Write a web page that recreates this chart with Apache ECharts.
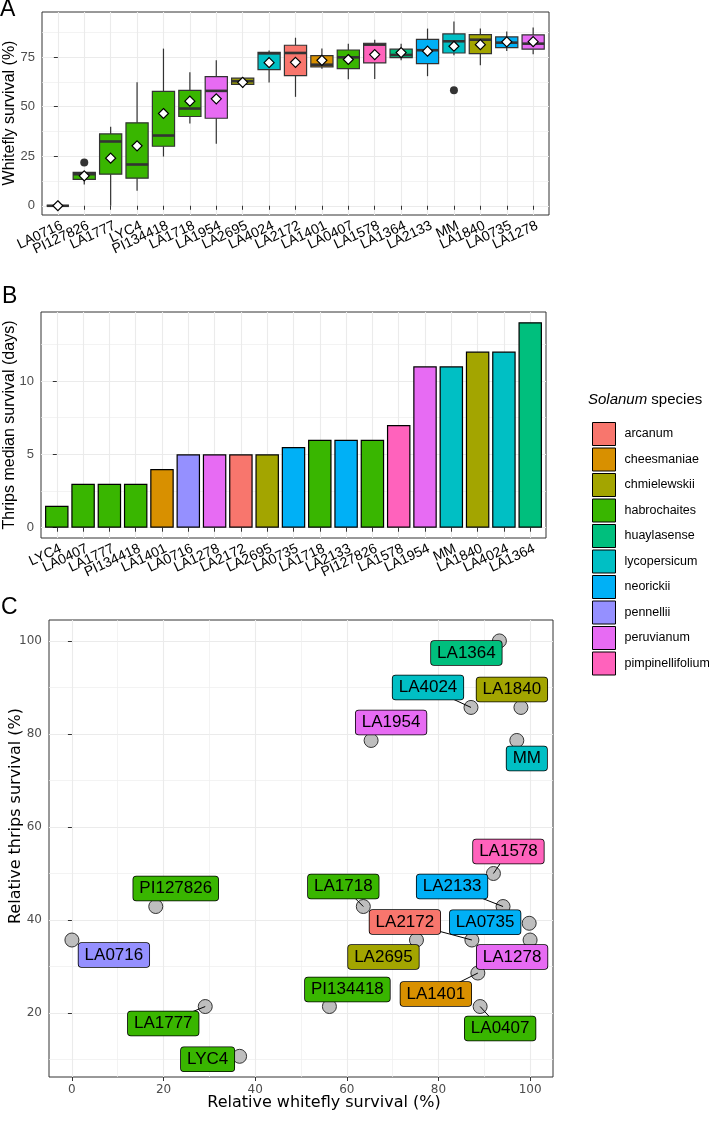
<!DOCTYPE html>
<html>
<head>
<meta charset="utf-8">
<script src="https://cdn.jsdelivr.net/npm/echarts@6/dist/echarts.min.js"></script>
<style>
html, body { margin: 0; padding: 0; background: #fff; }
#chart { width: 709px; height: 1121px; }
</style>
</head>
<body>
<div id="chart"></div>
<script>
// species + ggplot hue palette
var species = ['arcanum', 'cheesmaniae', 'chmielewskii', 'habrochaites', 'huaylasense',
  'lycopersicum', 'neorickii', 'pennellii', 'peruvianum', 'pimpinellifolium'];
var speciesColors = ['#F8766D', '#D89000', '#A3A500', '#39B600', '#00BF7D',
  '#00BFC4', '#00B0F6', '#9590FF', '#E76BF3', '#FF62BC'];

// panel A: whitefly survival boxplots
var boxNames = ['LA0716', 'PI127826', 'LA1777', 'LYC4', 'PI134418', 'LA1718', 'LA1954', 'LA2695', 'LA4024', 'LA2172',
  'LA1401', 'LA0407', 'LA1578', 'LA1364', 'LA2133', 'MM', 'LA1840', 'LA0735', 'LA1278'];
var boxSpecies = ['pennellii', 'habrochaites', 'habrochaites', 'habrochaites', 'habrochaites', 'habrochaites', 'peruvianum',
  'chmielewskii', 'lycopersicum', 'arcanum', 'cheesmaniae', 'habrochaites', 'pimpinellifolium', 'huaylasense',
  'neorickii', 'lycopersicum', 'chmielewskii', 'neorickii', 'peruvianum'];
var boxLow = [0, 10.7, 0, 7.6, 24.8, 41.4, 31.2, 59.4, 62.1, 54.9, 69.1, 63.8, 63.9, 73.3, 65.3, 75.8, 70.8, 78.0, 76.3];
var boxQ1 = [0, 13.3, 15.9, 13.9, 30.0, 45.0, 44.1, 61.2, 68.6, 65.6, 70.0, 69.1, 72.0, 74.7, 71.6, 77.0, 76.7, 79.7, 78.9];
var boxMedian = [0, 15.9, 32.4, 20.8, 35.4, 49.0, 57.9, 62.8, 76.8, 77.0, 71.1, 74.8, 81.2, 76.0, 78.4, 82.9, 83.7, 82.2, 81.7];
var boxQ3 = [0, 16.8, 36.2, 41.8, 57.6, 58.2, 65.1, 64.3, 77.3, 80.9, 75.7, 78.5, 81.9, 78.9, 83.9, 86.6, 86.2, 85.1, 86.1];
var boxHigh = [0, 16.8, 39.8, 62.2, 79.2, 67.3, 73.3, 64.8, 78.2, 84.7, 79.2, 81.7, 83.7, 81.7, 89.3, 92.8, 89.3, 87.8, 89.8];
var boxMean = [0, 15.1, 24.0, 30.2, 46.5, 52.7, 53.9, 62.2, 72.1, 72.3, 73.3, 73.7, 76.2, 77.2, 77.9, 80.4, 81.2, 82.6, 82.7];
var outlierNames = ['PI127826', 'MM'];
var outlierValues = [21.8, 58.2];

// panel B: thrips median survival (days)
var barNames = ['LYC4', 'LA0407', 'LA1777', 'PI134418', 'LA1401', 'LA0716', 'LA1278', 'LA2172', 'LA2695', 'LA0735',
  'LA1718', 'LA2133', 'PI127826', 'LA1578', 'LA1954', 'MM', 'LA1840', 'LA4024', 'LA1364'];
var barSpecies = ['habrochaites', 'habrochaites', 'habrochaites', 'habrochaites', 'cheesmaniae', 'pennellii', 'peruvianum',
  'arcanum', 'chmielewskii', 'neorickii', 'habrochaites', 'neorickii', 'habrochaites', 'pimpinellifolium',
  'peruvianum', 'lycopersicum', 'chmielewskii', 'lycopersicum', 'huaylasense'];
var barValues = [1.5, 3, 3, 3, 4, 5, 5, 5, 5, 5.5, 6, 6, 6, 7, 11, 11, 12, 12, 14];

// panel C: relative survival
var pointNames = ['LA0716', 'PI127826', 'LA1777', 'LYC4', 'PI134418', 'LA1718', 'LA1954', 'LA2695', 'LA4024', 'LA2172',
  'LA1401', 'LA0407', 'LA1578', 'LA1364', 'LA2133', 'MM', 'LA1840', 'LA0735', 'LA1278'];
var pointSpecies = boxSpecies;
var pointWhitefly = [0, 18.3, 29.1, 36.6, 56.2, 63.6, 65.3, 75.2, 87.1, 87.3, 88.6, 89.1, 92.0, 93.3, 94.1, 97.1, 98.0, 99.8, 100];
var pointThrips = [35.7, 42.9, 21.4, 10.7, 21.4, 42.9, 78.6, 35.7, 85.7, 35.7, 28.6, 21.4, 50.0, 100, 42.9, 78.6, 85.7, 39.3, 35.7];

// label placement (pixel offset from point, repel-style) and whether a segment is drawn
var labelDx = [42, 20, -42, -32, 18, -20, 20, -33, -43, -67, -42, 20, 15, -33, -51, 10, -9, -44, -18];
var labelDy = [15, -18, 17, 3, -17, -20, -18, 17, -20, -18, 21, 22, -22, 12, -20, 18, -18, -1, 17];
var labelSegment = [0, 0, 1, 0, 0, 1, 0, 0, 1, 1, 1, 1, 1, 0, 1, 0, 0, 0, 0];

function colorOf(s) {
  return speciesColors[species.indexOf(s)];
}

var sans = '"Liberation Sans", Arial, sans-serif';
var dejavu = '"DejaVu Sans", sans-serif';
var gridMajor = { show: true, lineStyle: { color: '#EBEBEB', width: 1.1 } };
var gridMinor = { show: true, lineStyle: { color: '#EEEEEE', width: 0.7 } };

// panel frames; discrete panels get a label grid inset by the 0.6/0.5 expansion difference
var frameA = { left: 42, top: 12, width: 507, height: 203 };
var frameB = { left: 41, top: 312, width: 505, height: 226 };
var frameC = { left: 49, top: 620, width: 504, height: 457 };

function range(n) {
  var r = [];
  for (var i = 0; i < n; i++) r.push(i);
  return r;
}

// rotated labels hang from their top-right corner (hjust = vjust = 1), so nudge the label grid right
function labelGrid(frame, n) {
  var unit = frame.width / (n + 0.2);
  return { left: frame.left + 0.1 * unit + 4, top: frame.top, width: n * unit, height: frame.height, show: false };
}

function discreteAxis(grid, names) {
  return {
    type: 'value', gridIndex: grid, min: -0.6, max: names.length - 0.4,
    axisLine: { show: false },
    axisTick: { show: true, length: 4, lineStyle: { color: '#333' }, customValues: range(names.length) },
    axisLabel: { show: false, customValues: range(names.length) },
    splitLine: gridMajor
  };
}

function nameAxis(grid, names) {
  return {
    type: 'category', gridIndex: grid, data: names,
    axisLine: { show: false }, axisTick: { show: false }, splitLine: { show: false },
    axisLabel: { interval: 0, rotate: 25, margin: 10, fontFamily: sans, fontSize: 14, color: '#000' }
  };
}

function valAxis(grid, min, max, ticks, font, size) {
  return {
    type: 'value', gridIndex: grid, min: min, max: max,
    axisLine: { show: false },
    axisTick: { show: true, length: 4, lineStyle: { color: '#333' }, customValues: ticks },
    axisLabel: {
      customValues: ticks, margin: 7, fontFamily: font, fontSize: size, color: '#4D4D4D',
      showMinLabel: true, showMaxLabel: true, hideOverlap: false
    },
    splitLine: gridMajor
  };
}

function minorAxis(grid, min, max, ticks) {
  return {
    type: 'value', gridIndex: grid, min: min, max: max,
    axisLine: { show: false },
    axisTick: { show: false, customValues: ticks },
    axisLabel: { show: false, customValues: ticks },
    splitLine: gridMinor
  };
}

function renderBox(params, api) {
  var i = api.value(0);
  var x = api.coord([i, 0])[0];
  var half = api.size([1, 0])[0] * 0.42;
  var yLo = api.coord([i, api.value(1)])[1];
  var yQ1 = api.coord([i, api.value(2)])[1];
  var yMed = api.coord([i, api.value(3)])[1];
  var yQ3 = api.coord([i, api.value(4)])[1];
  var yHi = api.coord([i, api.value(5)])[1];
  var color = colorOf(boxSpecies[params.dataIndex]);
  return {
    type: 'group',
    children: [
      { type: 'line', shape: { x1: x, y1: yQ1, x2: x, y2: yLo }, style: { stroke: '#333', lineWidth: 1.2 } },
      { type: 'line', shape: { x1: x, y1: yQ3, x2: x, y2: yHi }, style: { stroke: '#333', lineWidth: 1.2 } },
      { type: 'rect', shape: { x: x - half, y: yQ3, width: half * 2, height: yQ1 - yQ3 },
        style: { fill: color, stroke: '#333', lineWidth: 1.2 } },
      { type: 'line', shape: { x1: x - half, y1: yMed, x2: x + half, y2: yMed }, style: { stroke: '#333', lineWidth: 2.6 } }
    ]
  };
}

function renderLabel(params, api) {
  var k = params.dataIndex;
  var p = api.coord([api.value(0), api.value(1)]);
  var cx = p[0] + labelDx[k];
  var cy = p[1] + labelDy[k];
  var children = [];
  if (labelSegment[k]) {
    children.push({ type: 'line', shape: { x1: p[0], y1: p[1], x2: cx, y2: cy }, style: { stroke: '#000', lineWidth: 1 } });
  }
  children.push({
    type: 'text', x: cx, y: cy,
    style: {
      text: pointNames[k], align: 'center', verticalAlign: 'middle',
      font: '17px ' + sans, fill: '#000',
      backgroundColor: colorOf(pointSpecies[k]), borderColor: '#000', borderWidth: 0.8, borderRadius: 3,
      padding: [4, 6, 3, 6]
    }
  });
  return { type: 'group', children: children };
}

var boxData = boxNames.map(function (n, i) {
  return [i, boxLow[i], boxQ1[i], boxMedian[i], boxQ3[i], boxHigh[i]];
});
var meanData = boxNames.map(function (n, i) { return [i, boxMean[i]]; });
var outlierData = outlierNames.map(function (n, k) { return [boxNames.indexOf(n), outlierValues[k]]; });
var barData = barNames.map(function (n, i) {
  return { value: [i, barValues[i]], itemStyle: { color: colorOf(barSpecies[i]) } };
});
var pointData = pointNames.map(function (n, i) { return [pointWhitefly[i], pointThrips[i]]; });

var legendSeries = species.map(function (s, k) {
  return {
    name: s, type: 'scatter', xAxisIndex: 2, yAxisIndex: 4, data: [],
    itemStyle: { color: speciesColors[k], opacity: 1 }
  };
});

function frameGrid(f) {
  return { left: f.left, top: f.top, width: f.width, height: f.height, show: true, borderColor: '#333', borderWidth: 1 };
}

var option = {
  backgroundColor: '#fff',
  animation: false,
  grid: [
    frameGrid(frameA),
    frameGrid(frameB),
    frameGrid(frameC),
    labelGrid(frameA, boxNames.length),
    labelGrid(frameB, barNames.length)
  ],
  xAxis: [
    discreteAxis(0, boxNames),
    discreteAxis(1, barNames),
    valAxis(2, -5, 105, [0, 20, 40, 60, 80, 100], dejavu, 12),
    minorAxis(2, -5, 105, [10, 30, 50, 70, 90]),
    nameAxis(3, boxNames),
    nameAxis(4, barNames)
  ],
  yAxis: [
    valAxis(0, -4.65, 97.65, [0, 25, 50, 75], sans, 13),
    minorAxis(0, -4.65, 97.65, [12.5, 37.5, 62.5, 87.5]),
    valAxis(1, -0.7, 14.7, [0, 5, 10], sans, 13),
    minorAxis(1, -0.7, 14.7, [2.5, 7.5, 12.5]),
    valAxis(2, 6.25, 104.5, [20, 40, 60, 80, 100], dejavu, 12),
    minorAxis(2, 6.25, 104.5, [10, 30, 50, 70, 90]),
    { type: 'value', gridIndex: 3, show: false },
    { type: 'value', gridIndex: 4, show: false }
  ],
  legend: {
    orient: 'vertical', left: 587, top: 417,
    itemWidth: 23, itemHeight: 23, itemGap: 1.5, icon: 'rect',
    selectedMode: false,
    data: species,
    itemStyle: { borderColor: '#000', borderWidth: 1, opacity: 1 },
    textStyle: { fontFamily: sans, fontSize: 12.5, color: '#000', padding: [0, 0, 0, 4] }
  },
  graphic: [
    { type: 'text', x: 0, y: 10, style: { text: 'A', font: '23px ' + sans, fill: '#000', verticalAlign: 'middle' } },
    { type: 'text', x: 2, y: 297, style: { text: 'B', font: '23px ' + sans, fill: '#000', verticalAlign: 'middle' } },
    { type: 'text', x: 1, y: 608, style: { text: 'C', font: '23px ' + sans, fill: '#000', verticalAlign: 'middle' } },
    { type: 'text', x: 10, y: 113, rotation: Math.PI / 2,
      style: { text: 'Whitefly survival (%)', font: '16px ' + sans, fill: '#000', align: 'center', verticalAlign: 'middle' } },
    { type: 'text', x: 10, y: 425, rotation: Math.PI / 2,
      style: { text: 'Thrips median survival (days)', font: '16px ' + sans, fill: '#000', align: 'center', verticalAlign: 'middle' } },
    { type: 'text', x: 16, y: 816, rotation: Math.PI / 2,
      style: { text: 'Relative thrips survival (%)', font: '16px ' + dejavu, fill: '#000', align: 'center', verticalAlign: 'middle' } },
    { type: 'text', x: 324, y: 1103,
      style: { text: 'Relative whitefly survival (%)', font: '16px ' + dejavu, fill: '#000', align: 'center', verticalAlign: 'middle' } },
    { type: 'text', x: 588, y: 400,
      style: {
        text: '{i|Solanum} species', font: '15px ' + sans, fill: '#000', verticalAlign: 'middle',
        rich: { i: { fontStyle: 'italic', fontSize: 15, fontFamily: sans } }
      } }
  ],
  series: [
    {
      name: 'whitefly', type: 'custom', xAxisIndex: 0, yAxisIndex: 0,
      renderItem: renderBox, encode: { x: 0, y: [1, 2, 3, 4, 5] }, data: boxData, z: 2
    },
    {
      name: 'outliers', type: 'scatter', xAxisIndex: 0, yAxisIndex: 0, data: outlierData,
      symbolSize: 8, itemStyle: { color: '#333', opacity: 1 }, z: 3
    },
    {
      name: 'mean', type: 'scatter', xAxisIndex: 0, yAxisIndex: 0, data: meanData,
      symbol: 'diamond', symbolSize: 10, itemStyle: { color: '#fff', borderColor: '#000', borderWidth: 1.2, opacity: 1 }, z: 4
    },
    {
      name: 'thrips', type: 'bar', xAxisIndex: 1, yAxisIndex: 2, data: barData, barWidth: 23.5,
      itemStyle: { borderColor: '#000', borderWidth: 1.2 }, z: 2
    },
    {
      name: 'relative', type: 'scatter', xAxisIndex: 2, yAxisIndex: 4, data: pointData, symbolSize: 14,
      itemStyle: { color: '#BEBEBE', borderColor: '#333', borderWidth: 1, opacity: 1 }, z: 2
    },
    {
      name: 'labels', type: 'custom', xAxisIndex: 2, yAxisIndex: 4, renderItem: renderLabel,
      encode: { x: 0, y: 1 }, data: pointData, z: 4
    }
  ].concat(legendSeries)
};

var chart = echarts.init(document.getElementById('chart'));
chart.setOption(option);
</script>
</body>
</html>
